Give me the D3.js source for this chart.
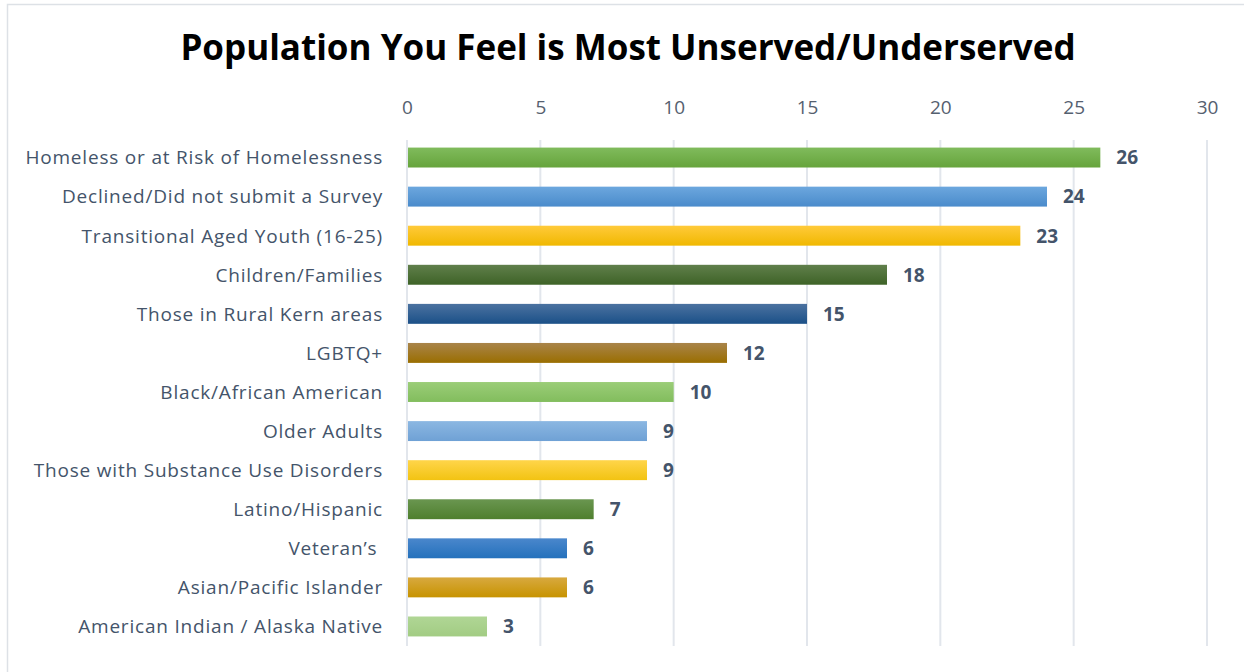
<!DOCTYPE html>
<html>
<head>
<meta charset="utf-8">
<title>Population You Feel is Most Unserved/Underserved</title>
<script src="https://cdn.jsdelivr.net/npm/d3@7"></script>
<style>
  body { margin: 0; background: #fff; }
  svg { display: block; font-family: "Open Sans", sans-serif; }
</style>
</head>
<body>
<script>
// chart data
var categories = [
  "Homeless or at Risk of Homelessness",
  "Declined/Did not submit a Survey",
  "Transitional Aged Youth (16-25)",
  "Children/Families",
  "Those in Rural Kern areas",
  "LGBTQ+",
  "Black/African American",
  "Older Adults",
  "Those with Substance Use Disorders",
  "Latino/Hispanic",
  "Veteran\u2019s ",
  "Asian/Pacific Islander",
  "American Indian / Alaska Native"
];
var values = [26, 24, 23, 18, 15, 12, 10, 9, 9, 7, 6, 6, 3];
var xTicks = [0, 5, 10, 15, 20, 25, 30];

// bar colours, top and bottom of the gradient
var barTop = ["#80bb5c", "#6ca7de", "#ffca3a", "#607f4b", "#4b72a0", "#a9844a", "#9bcd78", "#8bb7e2", "#ffd54a", "#6a9650", "#4a87cc", "#d8a93f", "#b0d695"];
var barBottom = ["#66a43c", "#4a8bcb", "#f0b800", "#3e6327", "#1b5088", "#9a6e00", "#82bd5d", "#6fa1d5", "#f2c312", "#4f7f2e", "#2471bc", "#c79300", "#a2cc83"];

var W = 1244, H = 672;
var margin = {top: 138, right: 37, bottom: 26, left: 407};

var svg = d3.select("body").append("svg")
    .attr("width", W)
    .attr("height", H);

// frame
svg.append("rect")
    .attr("x", 7.5).attr("y", 4.5)
    .attr("width", W).attr("height", H)
    .attr("fill", "none")
    .attr("stroke", "#dde1e6")
    .attr("stroke-width", 1.5);

var x = d3.scaleLinear().domain([0, 30]).range([margin.left, W - margin.right]);
var y = d3.scaleBand().domain(categories)
    .range([margin.top, H - margin.bottom])
    .paddingInner(0.49).paddingOuter(0.245);

var defs = svg.append("defs");
categories.forEach(function(c, i) {
  var g = defs.append("linearGradient")
      .attr("id", "grad" + i)
      .attr("x1", 0).attr("y1", 0).attr("x2", 0).attr("y2", 1);
  g.append("stop").attr("offset", "0%").attr("stop-color", barTop[i]);
  g.append("stop").attr("offset", "100%").attr("stop-color", barBottom[i]);
});

// title
svg.append("text")
    .attr("x", 628).attr("y", 60)
    .attr("text-anchor", "middle")
    .attr("font-size", 35)
    .attr("font-weight", "bold")
    .attr("fill", "#000")
    .text("Population You Feel is Most Unserved/Underserved");

// gridlines
svg.append("g")
    .selectAll("line")
    .data(xTicks)
    .enter().append("line")
    .attr("x1", function(d) { return x(d); })
    .attr("x2", function(d) { return x(d); })
    .attr("y1", margin.top + 2)
    .attr("y2", H - margin.bottom)
    .attr("stroke", "#e2e6ec")
    .attr("stroke-width", 2);

// top axis labels
var xAxis = d3.axisTop(x).tickValues(xTicks).tickSize(0).tickPadding(0);
var gx = svg.append("g")
    .attr("transform", "translate(0,114)")
    .call(xAxis);
gx.select(".domain").remove();
gx.selectAll("text")
    .attr("font-family", "'Open Sans', sans-serif")
    .attr("font-size", 19)
    .attr("fill", "#55606f");

// category labels (keep the trailing space after Veteran's)
var yAxis = d3.axisLeft(y).tickSize(0).tickPadding(24);
var gy = svg.append("g")
    .attr("transform", "translate(" + margin.left + ",0)")
    .call(yAxis);
gy.select(".domain").remove();
gy.selectAll("text")
    .attr("font-family", "'Open Sans', sans-serif")
    .attr("font-size", 19)
    .attr("letter-spacing", "0.8px")
    .attr("fill", "#44546a")
    .attr("dy", "0.36em")
    .style("white-space", "pre");

// bars
svg.append("g")
    .selectAll("rect")
    .data(values)
    .enter().append("rect")
    .attr("x", x(0) + 1)
    .attr("y", function(d, i) { return y(categories[i]); })
    .attr("width", function(d) { return x(d) - x(0) - 1; })
    .attr("height", y.bandwidth())
    .attr("fill", function(d, i) { return "url(#grad" + i + ")"; });

// value labels
svg.append("g")
    .selectAll("text")
    .data(values)
    .enter().append("text")
    .attr("x", function(d) { return x(d) + 16; })
    .attr("y", function(d, i) { return y(categories[i]) + y.bandwidth() / 2; })
    .attr("dy", "0.36em")
    .attr("font-size", 19)
    .attr("font-weight", "bold")
    .attr("fill", "#44546a")
    .text(function(d) { return d; });
</script>
</body>
</html>
